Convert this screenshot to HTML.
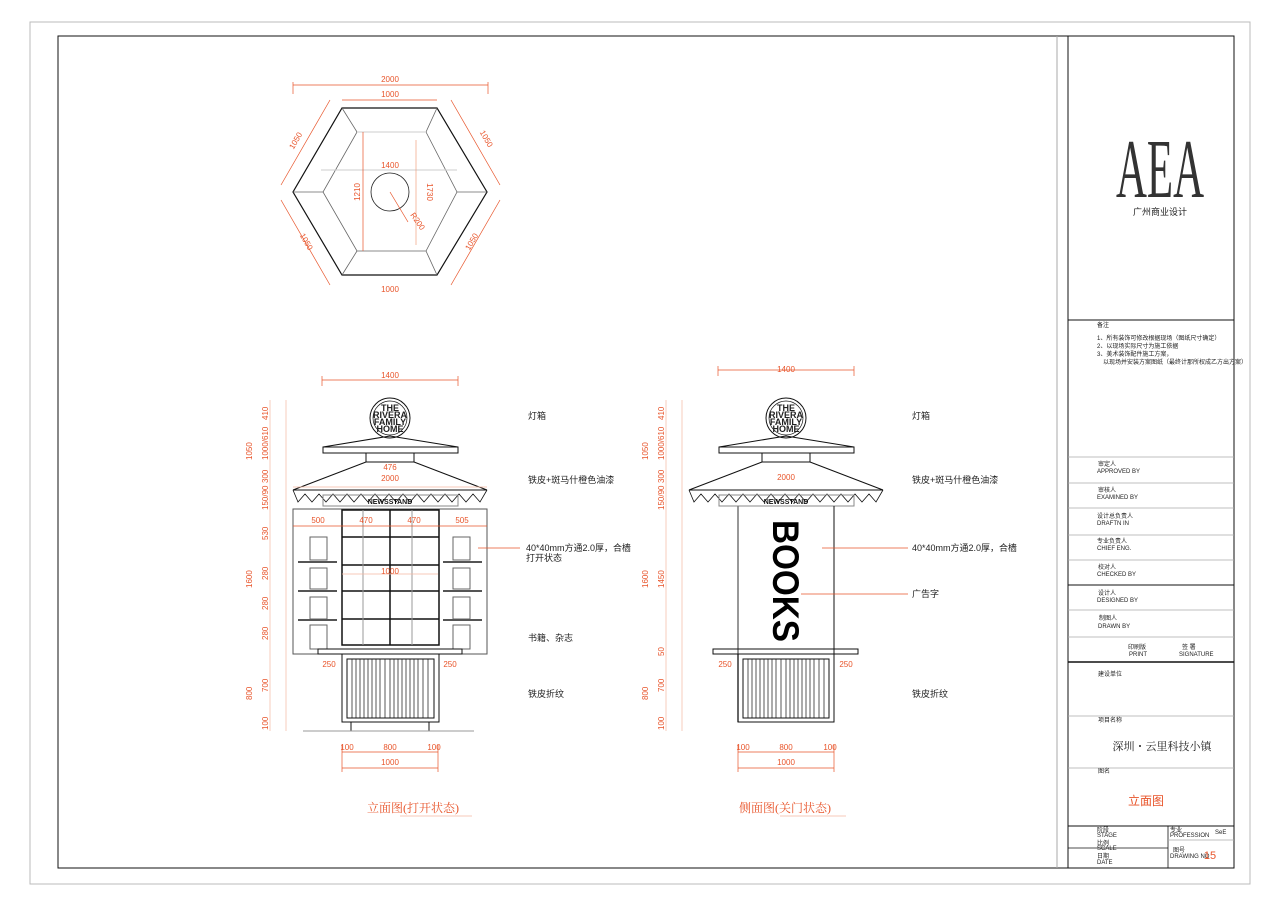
<!DOCTYPE html>
<html><head><meta charset="utf-8"><style>
html,body{margin:0;padding:0;background:#fff;}
svg{display:block;font-family:"Liberation Sans","Noto Sans CJK SC",sans-serif;}
.o{fill:#e8542a;font-size:8px;}
.n{fill:#222;font-size:9px;}
.t{fill:#222;font-size:6px;}
</style></head><body>
<svg width="1280" height="904" viewBox="0 0 1280 904" xmlns="http://www.w3.org/2000/svg">
<rect width="1280" height="904" fill="#fff"/>
<rect x="30" y="22" width="1220" height="862" fill="none" stroke="#bbb" stroke-width="1"/>
<rect x="58" y="36" width="1176" height="832" fill="none" stroke="#111" stroke-width="1"/>
<line x1="1057" y1="36" x2="1057" y2="868" stroke="#aaa"/>
<line x1="1068" y1="36" x2="1068" y2="868" stroke="#111"/>

<!-- Title block -->
<text x="1160" y="197" font-family="Liberation Serif,serif" font-size="84" fill="#333" text-anchor="middle" textLength="88" lengthAdjust="spacingAndGlyphs">AEA</text>
<text x="1160" y="215" class="n" font-size="8" text-anchor="middle">广州商业设计</text>
<g stroke="#111" stroke-width="1">
<line x1="1068" y1="320" x2="1234" y2="320"/>
<line x1="1068" y1="585" x2="1234" y2="585"/>
<line x1="1068" y1="662" x2="1234" y2="662" stroke-width="1.5"/>
<line x1="1068" y1="826" x2="1234" y2="826"/>
</g>
<g stroke="#aaa" stroke-width="0.8">
<line x1="1068" y1="457" x2="1234" y2="457"/>
<line x1="1068" y1="483" x2="1234" y2="483"/>
<line x1="1068" y1="508" x2="1234" y2="508"/>
<line x1="1068" y1="535" x2="1234" y2="535"/>
<line x1="1068" y1="560" x2="1234" y2="560"/>
<line x1="1068" y1="610" x2="1234" y2="610"/>
<line x1="1068" y1="637" x2="1234" y2="637"/>
<line x1="1068" y1="716" x2="1234" y2="716"/>
<line x1="1068" y1="768" x2="1234" y2="768"/>
<line x1="1068" y1="848" x2="1168" y2="848" stroke="#111"/>
<line x1="1168" y1="826" x2="1168" y2="868" stroke="#111"/>
<line x1="1168" y1="840" x2="1234" y2="840"/>
</g>
<g class="t">
<text x="1097" y="327">备注</text>
<text x="1097" y="340">1、所有装饰可修改根据现场（图纸尺寸确定）</text>
<text x="1097" y="348">2、以现场实际尺寸为施工依据</text>
<text x="1097" y="356">3、美术装饰配件施工方案，</text>
<text x="1103" y="364">以现场并安装方案图纸（最终计那所权成乙方出方案）</text>
<text x="1098" y="466">审定人</text><text x="1097" y="473">APPROVED BY</text>
<text x="1098" y="492">审核人</text><text x="1097" y="499">EXAMINED BY</text>
<text x="1097" y="518">设计总负责人</text><text x="1097" y="525">DRAFTN IN</text>
<text x="1097" y="543">专业负责人</text><text x="1097" y="550">CHIEF  ENG.</text>
<text x="1098" y="569">校对人</text><text x="1097" y="576">CHECKED BY</text>
<text x="1098" y="595">设计人</text><text x="1097" y="602">DESIGNED BY</text>
<text x="1099" y="620">制图人</text><text x="1098" y="628">DRAWN BY</text>
<text x="1128" y="649">印刷版</text><text x="1129" y="656">PRINT</text>
<text x="1182" y="649">签 署</text><text x="1179" y="656">SIGNATURE</text>
<text x="1098" y="676">建设单位</text>
<text x="1098" y="722">项目名称</text>
<text x="1098" y="773">图名</text>
<text x="1097" y="832">阶段</text><text x="1097" y="837">STAGE</text>
<text x="1097" y="845">比例</text><text x="1097" y="850">SCALE</text>
<text x="1097" y="858">日期</text><text x="1097" y="864">DATE</text>
<text x="1170" y="832">专业</text><text x="1170" y="837">PROFESSION</text>
<text x="1215" y="834">SeE</text>
<text x="1173" y="852">图号</text><text x="1170" y="858">DRAWING NO</text>
</g>
<text x="1162" y="750" font-size="11" fill="#222" text-anchor="middle" font-family="Liberation Serif,'Noto Serif CJK SC',serif">深圳・云里科技小镇</text>
<text x="1146" y="805" font-size="12" fill="#e8542a" text-anchor="middle">立面图</text>
<text x="1210" y="859" font-size="11" fill="#e8542a" text-anchor="middle">15</text>

<!-- Hexagon plan -->
<g fill="none">
<polygon points="342,108 437,108 487,192 437,275 342,275 293,192" stroke="#111" stroke-width="1.2"/>
<polygon points="357,132 426,132 457,192 426,251 357,251 323,192" stroke="#666" stroke-width="0.8"/>
<line x1="342" y1="108" x2="357" y2="132" stroke="#666" stroke-width="0.8"/>
<line x1="437" y1="108" x2="426" y2="132" stroke="#666" stroke-width="0.8"/>
<line x1="487" y1="192" x2="457" y2="192" stroke="#666" stroke-width="0.8"/>
<line x1="293" y1="192" x2="323" y2="192" stroke="#666" stroke-width="0.8"/>
<line x1="437" y1="275" x2="426" y2="251" stroke="#666" stroke-width="0.8"/>
<line x1="342" y1="275" x2="357" y2="251" stroke="#666" stroke-width="0.8"/>
<circle cx="390" cy="192" r="19" stroke="#222" stroke-width="0.8"/>
<line x1="357" y1="132" x2="426" y2="132" stroke="#ccc"/>
<line x1="321" y1="170" x2="457" y2="170" stroke="#ccc"/>
</g>
<g stroke="#e8542a" stroke-width="0.7" fill="none">
<line x1="293" y1="85" x2="488" y2="85"/><line x1="293" y1="82" x2="293" y2="94"/><line x1="488" y1="82" x2="488" y2="94"/>
<line x1="342" y1="100" x2="437" y2="100"/>
<line x1="363" y1="132" x2="363" y2="251"/>
<line x1="416" y1="140" x2="416" y2="245" stroke="#f0a080"/>
<line x1="390" y1="192" x2="408" y2="222"/>
<line x1="330" y1="100" x2="281" y2="185"/>
<line x1="451" y1="100" x2="500" y2="185"/>
<line x1="281" y1="200" x2="330" y2="285"/>
<line x1="500" y1="200" x2="451" y2="285"/>
</g>
<g class="o">
<text x="390" y="82" text-anchor="middle">2000</text>
<text x="390" y="97" text-anchor="middle">1000</text>
<text x="390" y="168" text-anchor="middle">1400</text>
<text x="390" y="292" text-anchor="middle">1000</text>
<text x="360" y="192" transform="rotate(-90 360 192)" text-anchor="middle">1210</text>
<text x="427" y="192" transform="rotate(90 427 192)" text-anchor="middle">1730</text>
<text x="410" y="215" transform="rotate(55 410 215)">R200</text>
<text x="298" y="142" transform="rotate(-60 298 142)" text-anchor="middle">1050</text>
<text x="484" y="140" transform="rotate(60 484 140)" text-anchor="middle">1050</text>
<text x="304" y="243" transform="rotate(60 304 243)" text-anchor="middle">1050</text>
<text x="474" y="243" transform="rotate(-60 474 243)" text-anchor="middle">1050</text>
</g>

<!-- Left elevation -->
<g fill="none" stroke="#111" stroke-width="1">
<circle cx="390" cy="418" r="20"/><circle cx="390" cy="418" r="17" stroke-width="0.7"/>
<polyline points="323,447 390,436 458,447"/>
<rect x="323" y="447" width="135" height="6" fill="#fff"/>
<rect x="366" y="453" width="48" height="9"/>
<line x1="366" y1="462" x2="293" y2="490"/><line x1="414" y1="462" x2="487" y2="490"/>
<line x1="293" y1="490" x2="487" y2="490"/>
<polyline stroke-width="0.8" points="293,490 298,502 305,494 312,502 319,494 326,502 333,494 340,502 347,494 354,502 361,494 368,502 375,494 382,502 389,494 396,502 403,494 410,502 417,494 424,502 431,494 438,502 445,494 452,502 459,494 466,502 473,494 480,502 487,490"/>
<rect x="323" y="495" width="135" height="11" stroke="#888"/>
</g>
<g class="n" font-size="5.5" font-weight="bold" text-anchor="middle"><text x="390" y="411">THE</text><text x="390" y="418">RIVERA</text><text x="390" y="425">FAMILY</text><text x="390" y="432">HOME</text></g>
<text x="390" y="504" font-size="7" font-weight="bold" text-anchor="middle" fill="#111">NEWSSTAND</text>
<g fill="none" stroke="#111" stroke-width="1">
<rect x="293" y="509" width="194" height="145" stroke="#555"/>
<rect x="342" y="510" width="97" height="135" stroke-width="1.5"/>
<line x1="390" y1="510" x2="390" y2="645" stroke-width="1.5"/>
<line x1="342" y1="537" x2="439" y2="537" stroke-width="1.5"/>
<line x1="342" y1="565" x2="439" y2="565" stroke-width="1.5"/>
<line x1="342" y1="591" x2="439" y2="591" stroke-width="1.5"/>
<line x1="342" y1="619" x2="439" y2="619" stroke-width="1.5"/>
<line x1="363" y1="510" x2="363" y2="645" stroke="#999"/><line x1="412" y1="510" x2="412" y2="645" stroke="#999"/>
<rect x="310" y="537" width="17" height="23" stroke="#666"/><rect x="310" y="568" width="17" height="21" stroke="#666"/><rect x="310" y="597" width="17" height="22" stroke="#666"/><rect x="310" y="625" width="17" height="24" stroke="#666"/>
<rect x="453" y="537" width="17" height="23" stroke="#666"/><rect x="453" y="568" width="17" height="21" stroke="#666"/><rect x="453" y="597" width="17" height="22" stroke="#666"/><rect x="453" y="625" width="17" height="24" stroke="#666"/>
<line x1="298" y1="562" x2="337" y2="562" stroke-width="2" stroke="#555"/><line x1="298" y1="591" x2="337" y2="591" stroke-width="2" stroke="#555"/><line x1="298" y1="620" x2="337" y2="620" stroke-width="2" stroke="#555"/>
<line x1="443" y1="562" x2="482" y2="562" stroke-width="2" stroke="#555"/><line x1="443" y1="591" x2="482" y2="591" stroke-width="2" stroke="#555"/><line x1="443" y1="620" x2="482" y2="620" stroke-width="2" stroke="#555"/>
<rect x="318" y="649" width="144" height="5"/>
<rect x="342" y="654" width="97" height="68"/>
<rect x="347" y="659" width="87" height="59"/>
<path d="M352 659v59M356 659v59M360 659v59M364 659v59M368 659v59M372 659v59M376 659v59M380 659v59M385 659v59M390 659v59M394 659v59M398 659v59M402 659v59M406 659v59M410 659v59M414 659v59M418 659v59M423 659v59M428 659v59" stroke-width="0.7"/>
<line x1="351" y1="722" x2="351" y2="731"/><line x1="429" y1="722" x2="429" y2="731"/>
<line x1="303" y1="731" x2="474" y2="731" stroke="#999"/>
</g>

<!-- Right elevation -->
<g transform="translate(396,0)">
<g fill="none" stroke="#111" stroke-width="1">
<circle cx="390" cy="418" r="20"/><circle cx="390" cy="418" r="17" stroke-width="0.7"/>
<polyline points="323,447 390,436 458,447"/>
<rect x="323" y="447" width="135" height="6" fill="#fff"/>
<rect x="366" y="453" width="48" height="9"/>
<line x1="366" y1="462" x2="293" y2="490"/><line x1="414" y1="462" x2="487" y2="490"/>
<line x1="293" y1="490" x2="487" y2="490"/>
<polyline stroke-width="0.8" points="293,490 298,502 305,494 312,502 319,494 326,502 333,494 340,502 347,494 354,502 361,494 368,502 375,494 382,502 389,494 396,502 403,494 410,502 417,494 424,502 431,494 438,502 445,494 452,502 459,494 466,502 473,494 480,502 487,490"/>
<rect x="323" y="495" width="135" height="11" stroke="#888"/>
<line x1="342" y1="506" x2="342" y2="722" stroke="#777" stroke-width="1.5"/>
<line x1="438" y1="506" x2="438" y2="722"/>
<rect x="317" y="649" width="145" height="5"/>
<rect x="342" y="654" width="96" height="68"/>
<rect x="347" y="659" width="86" height="59"/>
<path d="M352 659v59M356 659v59M360 659v59M364 659v59M368 659v59M372 659v59M376 659v59M380 659v59M385 659v59M390 659v59M394 659v59M398 659v59M402 659v59M406 659v59M410 659v59M414 659v59M418 659v59M423 659v59M428 659v59" stroke-width="0.7"/>
<line x1="342" y1="722" x2="438" y2="722"/>
</g>
<g class="n" font-size="5.5" font-weight="bold" text-anchor="middle"><text x="390" y="411">THE</text><text x="390" y="418">RIVERA</text><text x="390" y="425">FAMILY</text><text x="390" y="432">HOME</text></g>
<text x="390" y="504" font-size="7" font-weight="bold" text-anchor="middle" fill="#111">NEWSSTAND</text>
<text x="0" y="0" font-size="37" font-weight="bold" fill="#000" transform="translate(377,520) rotate(90)" textLength="122" lengthAdjust="spacingAndGlyphs">BOOKS</text>
</g>

<!-- Dimensions elevations (orange) -->
<g stroke="#e8542a" stroke-width="0.7" fill="none">
<line x1="322" y1="380" x2="458" y2="380"/><line x1="322" y1="376" x2="322" y2="386"/><line x1="458" y1="376" x2="458" y2="386"/>
<line x1="293" y1="487" x2="487" y2="487" stroke="#f4b8a0"/>
<line x1="293" y1="526" x2="487" y2="526"/>
<line x1="342" y1="574" x2="438" y2="574" stroke="#f4b8a0"/>
<line x1="342" y1="752" x2="438" y2="752"/><line x1="342" y1="768" x2="438" y2="768"/>
<line x1="342" y1="745" x2="342" y2="772"/><line x1="438" y1="745" x2="438" y2="772"/>
<line x1="286" y1="400" x2="286" y2="731" stroke="#f4b8a0"/>
<line x1="270" y1="400" x2="270" y2="731" stroke="#f4b8a0"/>
<line x1="718" y1="370" x2="854" y2="370"/><line x1="718" y1="366" x2="718" y2="376"/><line x1="854" y1="366" x2="854" y2="376"/>
<line x1="738" y1="752" x2="834" y2="752"/><line x1="738" y1="768" x2="834" y2="768"/>
<line x1="738" y1="745" x2="738" y2="772"/><line x1="834" y1="745" x2="834" y2="772"/>
<line x1="682" y1="400" x2="682" y2="731" stroke="#f4b8a0"/>
<line x1="666" y1="400" x2="666" y2="731" stroke="#f4b8a0"/>
<line x1="400" y1="816" x2="472" y2="816" stroke="#f4b8a0"/>
<line x1="780" y1="816" x2="846" y2="816" stroke="#f4b8a0"/>
<line x1="478" y1="548" x2="520" y2="548"/>
<line x1="822" y1="548" x2="908" y2="548"/>
<line x1="801" y1="594" x2="908" y2="594"/>
</g>
<g class="o" text-anchor="middle">
<text x="390" y="378">1400</text><text x="390" y="470">476</text><text x="390" y="481">2000</text>
<text x="318" y="523">500</text><text x="366" y="523">470</text><text x="414" y="523">470</text><text x="462" y="523">505</text>
<text x="390" y="574">1000</text>
<text x="329" y="667">250</text><text x="450" y="667">250</text>
<text x="347" y="750">100</text><text x="390" y="750">800</text><text x="434" y="750">100</text><text x="390" y="765">1000</text>
<text x="786" y="372">1400</text><text x="786" y="480">2000</text>
<text x="725" y="667">250</text><text x="846" y="667">250</text>
<text x="743" y="750">100</text><text x="786" y="750">800</text><text x="830" y="750">100</text><text x="786" y="765">1000</text>
</g>
<g class="o" font-size="7.5">
<text transform="translate(268,420) rotate(-90)">410</text>
<text transform="translate(252,460) rotate(-90)">1050</text>
<text transform="translate(268,460) rotate(-90)">1000/610</text>
<text transform="translate(268,483) rotate(-90)">300</text>
<text transform="translate(268,510) rotate(-90)">150/90</text>
<text transform="translate(268,540) rotate(-90)">530</text>
<text transform="translate(252,588) rotate(-90)">1600</text>
<text transform="translate(268,580) rotate(-90)">280</text>
<text transform="translate(268,610) rotate(-90)">280</text>
<text transform="translate(268,640) rotate(-90)">280</text>
<text transform="translate(252,700) rotate(-90)">800</text>
<text transform="translate(268,692) rotate(-90)">700</text>
<text transform="translate(268,730) rotate(-90)">100</text>
<text transform="translate(664,420) rotate(-90)">410</text>
<text transform="translate(648,460) rotate(-90)">1050</text>
<text transform="translate(664,460) rotate(-90)">1000/610</text>
<text transform="translate(664,483) rotate(-90)">300</text>
<text transform="translate(664,510) rotate(-90)">150/90</text>
<text transform="translate(648,588) rotate(-90)">1600</text>
<text transform="translate(664,588) rotate(-90)">1450</text>
<text transform="translate(664,656) rotate(-90)">50</text>
<text transform="translate(648,700) rotate(-90)">800</text>
<text transform="translate(664,692) rotate(-90)">700</text>
<text transform="translate(664,730) rotate(-90)">100</text>
</g>

<!-- Annotations -->
<g class="n" font-size="8.5">
<text x="528" y="419">灯箱</text>
<text x="528" y="483">铁皮+斑马什橙色油漆</text>
<text x="526" y="551">40*40mm方通2.0厚，合樯</text>
<text x="526" y="561">打开状态</text>
<text x="528" y="641">书籍、杂志</text>
<text x="528" y="697">铁皮折纹</text>
<text x="912" y="419">灯箱</text>
<text x="912" y="483">铁皮+斑马什橙色油漆</text>
<text x="912" y="551">40*40mm方通2.0厚，合樯</text>
<text x="912" y="597">广告字</text>
<text x="912" y="697">铁皮折纹</text>
</g>
<text x="413" y="812" font-size="12" fill="#e8542a" text-anchor="middle" font-family="Liberation Serif,'Noto Serif CJK SC',serif">立面图(打开状态)</text>
<text x="785" y="812" font-size="12" fill="#e8542a" text-anchor="middle" font-family="Liberation Serif,'Noto Serif CJK SC',serif">侧面图(关门状态)</text>
</svg>
</body></html>
